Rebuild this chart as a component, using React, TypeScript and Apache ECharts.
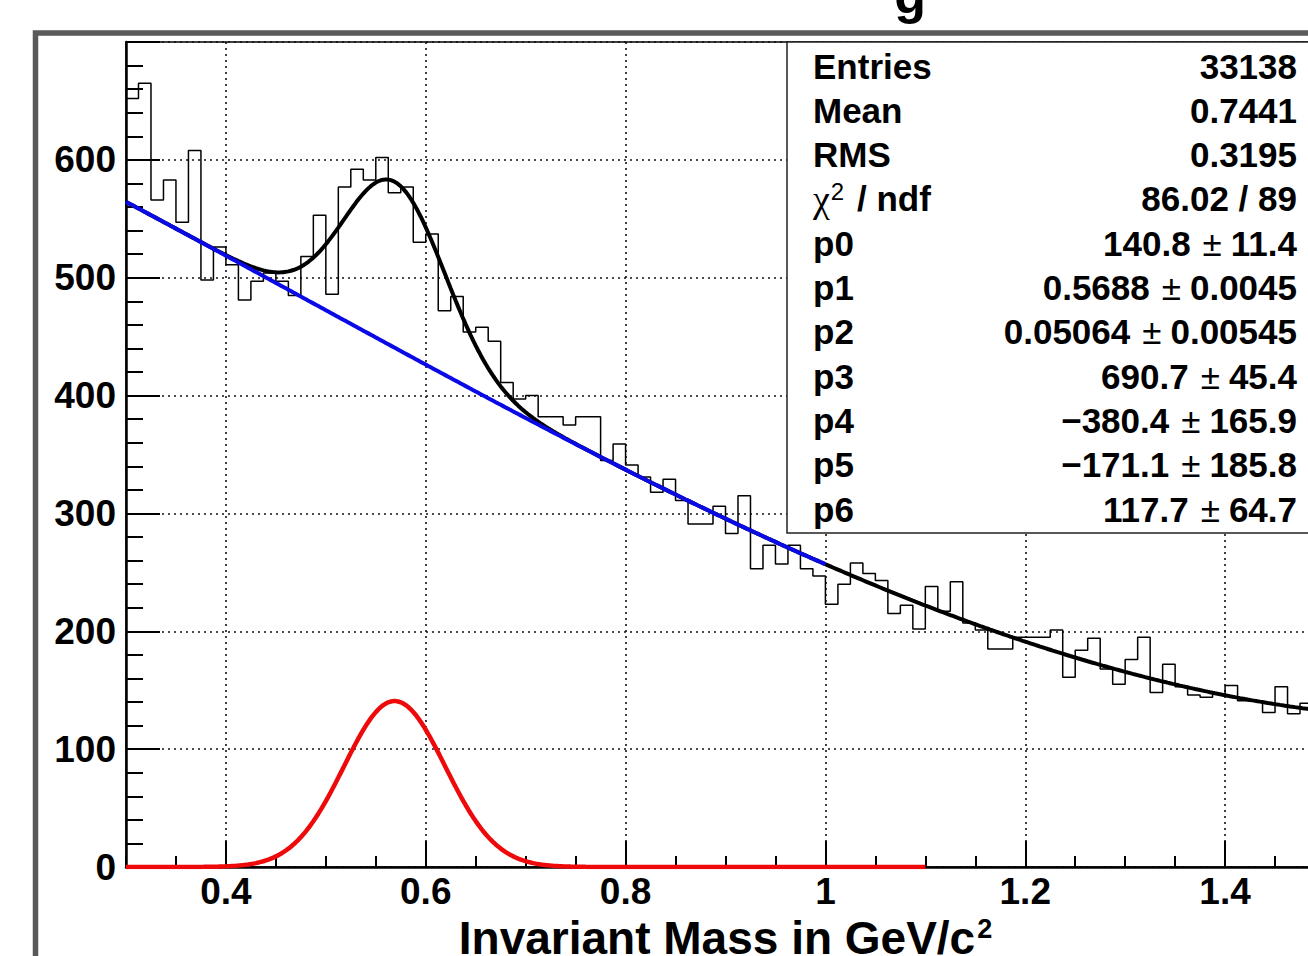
import React, { useEffect, useRef } from "react";
import * as echarts from "echarts";

// Histogram binning: 96 bins of width 0.0125 GeV/c^2 from 0.3 to 1.5
const binLow = 0.3;
const binWidth = 0.0125;
const binCounts = [
  652, 665, 566, 583, 547, 608, 498, 526, 511, 481,
  497, 504, 497, 485, 518, 553, 486, 577, 592, 583,
  602, 572, 577, 530, 537, 472, 484, 454, 458, 446,
  411, 397, 400, 382, 382, 375, 382, 382, 345, 359,
  341, 331, 318, 329, 311, 291, 291, 306, 283, 315,
  253, 273, 257, 273, 253, 247, 223, 240, 258, 249,
  243, 215, 222, 202, 238, 217, 242, 207, 201, 185,
  185, 195, 195, 195, 201, 161, 184, 194, 168, 155,
  176, 195, 148, 172, 153, 146, 144, 147, 154, 141,
  141, 131, 153, 130, 139, 143,
];

// Fit: p0*gaus(p1,p2) + pol3(p3..p6)
const fitParams = [140.8, 0.5688, 0.05064, 690.7, -380.4, -171.1, 117.7];
const totalRange = [0.3, 1.5];
const backgroundRange = [0.3, 1.0];
const signalRange = [0.3, 1.1];

// Axis ticks
const xMajorTicks = [0.4, 0.6, 0.8, 1.0, 1.2, 1.4];
const xRange = [0.3, 1.5];
const yRange = [0, 700];

// Statistics box
const statNames = ["Entries", "Mean", "RMS", "χ² / ndf", "p0", "p1", "p2", "p3", "p4", "p5", "p6"];
const statValues = [
  "33138",
  "0.7441",
  "0.3195",
  "86.02 / 89",
  "140.8 ± 11.4",
  "0.5688 ± 0.0045",
  "0.05064 ± 0.00545",
  "690.7 ± 45.4",
  "−380.4 ± 165.9",
  "−171.1 ± 185.8",
  "117.7 ± 64.7",
];

const FONT = '"Liberation Sans", Arial, Helvetica, sans-serif';

function signal(x: number): number {
  const [p0, p1, p2] = fitParams;
  const u = (x - p1) / p2;
  return p0 * Math.exp(-0.5 * u * u);
}

function background(x: number): number {
  const p3 = fitParams[3], p4 = fitParams[4], p5 = fitParams[5], p6 = fitParams[6];
  return p3 + p4 * x + p5 * x * x + p6 * x * x * x;
}

function curve(f: (x: number) => number, range: number[], n: number): number[][] {
  const pts: number[][] = [];
  for (let i = 0; i <= n; i++) {
    const x = range[0] + ((range[1] - range[0]) * i) / n;
    pts.push([x, f(x)]);
  }
  return pts;
}

function histogramOutline(): number[][] {
  const pts: number[][] = binCounts.map((v, i) => [binLow + i * binWidth, v]);
  pts.push([binLow + binCounts.length * binWidth, binCounts[binCounts.length - 1]]);
  return pts;
}

function nameRich(name: string): string {
  if (name.startsWith("χ²")) return "{chi|χ}{sup|2}{b|" + name.slice(2) + "}";
  return "{b|" + name + "}";
}

function valueRich(v: string): string {
  return v
    .split("±")
    .map((part) => "{b|" + part.trim() + "}")
    .join("{pm|±}");
}

export default function App() {
  const ref = useRef<HTMLDivElement>(null);

  useEffect(() => {
    if (!ref.current) return;
    const chart = echarts.init(ref.current, undefined, { renderer: "svg" });

    const statRich = {
      b: { fontFamily: FONT, fontWeight: "bold", fontSize: 35, color: "#000" },
      pm: { fontFamily: FONT, fontWeight: "normal", fontSize: 35, color: "#000", padding: [0, 9, 0, 12] },
      chi: { fontFamily: '"Liberation Serif", "DejaVu Serif", serif', fontWeight: "normal", fontSize: 38, color: "#000" },
      sup: { fontFamily: FONT, fontWeight: "normal", fontSize: 24, color: "#000", verticalAlign: "top", padding: [0, 3, 14, 1] },
    };

    const rowY0 = 66;
    const rowStep = 44.3;
    const statTexts: any[] = [];
    statNames.forEach((name, i) => {
      statTexts.push({
        type: "text",
        z: 101,
        x: 813,
        y: rowY0 + i * rowStep,
        style: { text: nameRich(name), rich: statRich, align: "left", verticalAlign: "middle" },
      });
      statTexts.push({
        type: "text",
        z: 101,
        x: 1297,
        y: rowY0 + i * rowStep,
        style: { text: valueRich(statValues[i]), rich: statRich, align: "right", verticalAlign: "middle" },
      });
    });

    const dotted = { type: [2, 4], color: "#111", width: 1.6 };

    chart.setOption({
      animation: false,
      backgroundColor: "#fff",
      grid: {
        left: 126,
        top: 42,
        width: 1199,
        height: 825,
        outerBoundsMode: "none",
        containLabel: false,
        show: true,
        borderColor: "#000",
        borderWidth: 1.5,
        backgroundColor: "transparent",
      },
      xAxis: [
        {
          type: "value",
          min: xRange[0],
          max: xRange[1],
          interval: 0.05,
          position: "bottom",
          axisLine: { show: true, onZero: false, lineStyle: { color: "#000", width: 2.5 } },
          axisTick: { show: true, inside: true, length: 11, lineStyle: { color: "#000", width: 2 } },
          axisLabel: { show: false },
          splitLine: { show: false },
        },
        {
          type: "value",
          min: xRange[0],
          max: xRange[1],
          position: "bottom",
          axisLine: { show: false, onZero: false },
          axisTick: { show: true, inside: true, length: 26, customValues: xMajorTicks, lineStyle: { color: "#000", width: 2 } },
          axisLabel: {
            show: true,
            customValues: xMajorTicks,
            formatter: (v: number) => String(Math.round(v * 10) / 10),
            fontFamily: FONT,
            fontWeight: "bold",
            fontSize: 37,
            color: "#000",
            margin: 6,
          },
          splitLine: { show: true, lineStyle: dotted },
          name: "{t|Invariant Mass in GeV/c}{s|2}",
          nameLocation: "middle",
          nameGap: 38,
          nameTextStyle: {
            rich: {
              t: { fontFamily: FONT, fontWeight: "bold", fontSize: 46, lineHeight: 44, color: "#000" },
              s: { fontFamily: FONT, fontWeight: "bold", fontSize: 27, color: "#000", verticalAlign: "top", padding: [0, 0, 18, 2] },
            },
          },
        },
      ],
      yAxis: {
        type: "value",
        min: yRange[0],
        max: yRange[1],
        interval: 100,
        axisLine: { show: true, lineStyle: { color: "#000", width: 2.5 } },
        axisTick: { show: true, inside: true, length: 34, lineStyle: { color: "#000", width: 2 } },
        minorTick: { show: true, splitNumber: 5, length: 17, lineStyle: { color: "#000", width: 2 } },
        axisLabel: { showMaxLabel: false, fontFamily: FONT, fontWeight: "bold", fontSize: 37, color: "#000", margin: 10 },
        splitLine: { show: true, lineStyle: dotted },
      },
      series: [
        {
          name: "histogram",
          type: "line",
          step: "end",
          data: histogramOutline(),
          showSymbol: false,
          lineStyle: { color: "#000", width: 1.5 },
          z: 2,
        },
        {
          name: "total fit",
          type: "line",
          data: curve((x) => signal(x) + background(x), totalRange, 480),
          showSymbol: false,
          lineStyle: { color: "#000", width: 4 },
          z: 3,
        },
        {
          name: "background",
          type: "line",
          data: curve(background, backgroundRange, 280),
          showSymbol: false,
          lineStyle: { color: "#0a0ae6", width: 4 },
          z: 4,
        },
        {
          name: "signal",
          type: "line",
          data: curve(signal, signalRange, 320),
          showSymbol: false,
          lineStyle: { color: "#ee0a0a", width: 4.5 },
          z: 5,
        },
      ],
      graphic: [
        {
          type: "text",
          silent: true,
          z: 40,
          x: 910,
          y: -5,
          style: { text: "g", fontFamily: FONT, fontWeight: "bold", fontSize: 52, fill: "#000", align: "center", verticalAlign: "middle" },
        },
        {
          type: "rect",
          silent: true,
          z: 50,
          shape: { x: 35.5, y: 33, width: 1400, height: 1000 },
          style: { fill: "none", stroke: "#5a5a5a", lineWidth: 5.5 },
        },
        {
          type: "rect",
          z: 100,
          shape: { x: 787, y: 42, width: 600, height: 491 },
          style: { fill: "#fff", stroke: "#222", lineWidth: 1.5 },
        },
        ...statTexts,
      ],
    });

    return () => chart.dispose();
  }, []);

  return <div ref={ref} style={{ position: "fixed", left: 0, top: 0, width: 1308, height: 956 }} />;
}
